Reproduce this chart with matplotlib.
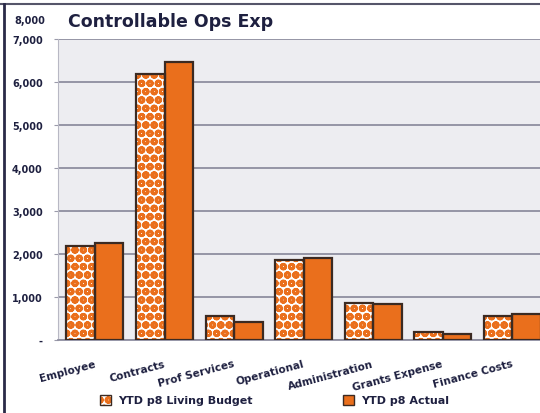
import matplotlib
matplotlib.use("Agg")
import matplotlib.pyplot as plt
from matplotlib.lines import Line2D
from matplotlib.patches import Patch
from matplotlib.legend_handler import HandlerTuple

categories = ["Employee", "Contracts", "Prof Services", "Operational",
              "Administration", "Grants Expense", "Finance Costs"]
budget = [2190, 6180, 560, 1860, 850, 190, 560]
actual = [2250, 6460, 420, 1905, 840, 135, 600]
yticks = [0, 1000, 2000, 3000, 4000, 5000, 6000, 7000]
ytick_labels = ["-", "1,000", "2,000", "3,000", "4,000", "5,000", "6,000", "7,000"]
series_names = ["YTD p8 Living Budget", "YTD p8 Actual"]
title = "Controllable Ops Exp"

ORANGE = "#EA6F1C"
EDGE = "#3B2A22"
TEXT = "#1E2040"
DOTS = "OOoo"

plt.rcParams["hatch.linewidth"] = 1.2

fig = plt.figure(figsize=(5.4, 4.14), dpi=100)
ax = fig.add_axes([58 / 540, 73 / 414, 482 / 540, 301 / 414])
ax.set_facecolor("#EDEDF1")

x = list(range(len(categories)))
w = 0.41
xb = [i - w / 2 for i in x]
xa = [i + w / 2 for i in x]

# dotted budget bars: hatch drawn in orange, outline drawn separately
ax.bar(xb, budget, width=w, facecolor="white", edgecolor=ORANGE,
       hatch=DOTS, linewidth=0, zorder=3)
ax.bar(xb, budget, width=w, facecolor="none", edgecolor=EDGE,
       linewidth=1.6, zorder=4)
ax.bar(xa, actual, width=w, facecolor=ORANGE, edgecolor=EDGE,
       linewidth=1.6, zorder=3)

ax.set_xlim(-0.532, 6.40)
ax.set_ylim(0, 7000)
ax.set_yticks(yticks)
ax.set_yticklabels(ytick_labels, fontsize=7, color=TEXT, fontweight="bold")
ax.yaxis.grid(True, color="#8E8EA0", linewidth=1.3, zorder=0)
ax.tick_params(axis="y", length=3, color="#9A9AAA", pad=8)
ax.set_xticks(x)
ax.set_xticklabels([])
ax.tick_params(axis="x", length=0)
for side in ["top", "right"]:
    ax.spines[side].set_visible(False)
ax.spines["left"].set_color("#B8B8C4")
ax.spines["bottom"].set_color("#8E8EA0")
ax.spines["bottom"].set_linewidth(1.3)

# slanted category labels, right end under each category
for i, name in enumerate(categories):
    ax.annotate(name, xy=(i, 0), xytext=(0, -16.5), textcoords="offset points",
                rotation=15, rotation_mode="anchor", ha="right", va="center",
                fontsize=7.6, color=TEXT, fontweight="bold",
                annotation_clip=False)

fig.text(68 / 540, 1 - 22 / 414, title, fontsize=12.5, fontweight="bold",
         color=TEXT, va="center", ha="left")
fig.text(45 / 540, 1 - 21 / 414, "8,000", fontsize=7, fontweight="bold",
         color=TEXT, va="center", ha="right")

# frame lines along the top and left edge
fig.add_artist(Line2D([0, 1], [1 - 5 / 414] * 2, color="#55556A", lw=1.5))
fig.add_artist(Line2D([4 / 540] * 2, [0, 1 - 5 / 414], color="#2A2A48", lw=2))

budget_handle = (Patch(facecolor="white", edgecolor=ORANGE, hatch=DOTS, linewidth=0),
                 Patch(facecolor="none", edgecolor=EDGE, linewidth=1))
actual_handle = Patch(facecolor=ORANGE, edgecolor=EDGE, linewidth=1)
fig.legend([budget_handle, actual_handle], series_names, loc="center left",
           ncol=2, bbox_to_anchor=(90 / 540, 1 - 401 / 414), frameon=False,
           handlelength=1.0, handleheight=1.0,
           handler_map={tuple: HandlerTuple(ndivide=1, pad=0)},
           columnspacing=8.2, handletextpad=0.6,
           labelcolor=TEXT, prop={"weight": "bold", "size": 8})

fig.savefig("out.png", dpi=100)
